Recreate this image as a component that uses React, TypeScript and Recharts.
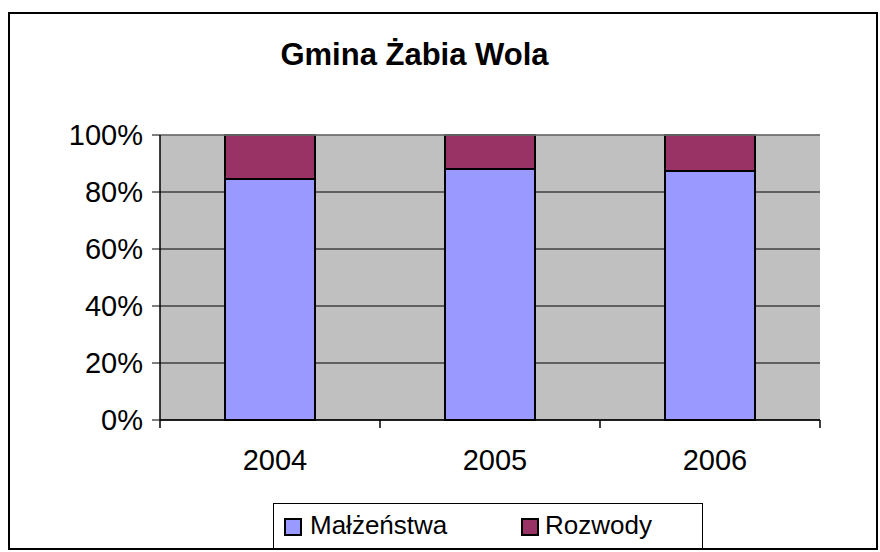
import React from 'react';
import { BarChart, Bar, XAxis, YAxis, CartesianGrid, ReferenceLine } from 'recharts';

const years = ['2004', '2005', '2006'];
const malzenstwa = [84.6, 88.1, 87.4];
const rozwody = [15.4, 11.9, 12.6];
const yTicks = [0, 20, 40, 60, 80, 100];

const data = years.map((y, i) => ({ year: y, m: malzenstwa[i], r: rozwody[i] }));

const FONT = '"Liberation Sans", Arial, sans-serif';

const CHART_W = 880;
const CHART_H = 552;
const MARGIN = { top: 135, right: 60, bottom: 102, left: 60 };
const Y_AXIS_W = 100;
const PLOT_W = CHART_W - MARGIN.left - MARGIN.right - Y_AXIS_W;
const HALF_BAND = PLOT_W / years.length / 2;

const XTick = (props: any) => {
  const { x, y, payload, index } = props;
  const isLast = index === years.length - 1;
  return (
    <g>
      <line x1={x - HALF_BAND} x2={x - HALF_BAND} y1={y} y2={y + 8} stroke="#000" strokeWidth={1.5} />
      {isLast && <line x1={x + HALF_BAND} x2={x + HALF_BAND} y1={y} y2={y + 8} stroke="#000" strokeWidth={1.5} />}
      <text x={x + 5} y={y + 50} textAnchor="middle" fontSize={29} fontFamily={FONT} fill="#000">
        {payload.value}
      </text>
    </g>
  );
};

export default function App() {
  return (
    <div style={{ position: 'absolute', left: 0, top: 0, width: CHART_W, height: CHART_H, background: '#fff', fontFamily: FONT }}>
      <BarChart width={CHART_W} height={CHART_H} data={data} margin={MARGIN} barSize={90}>
        <CartesianGrid vertical={false} fill="#C0C0C0" stroke="#000" strokeWidth={1} fillOpacity={1} />
        <XAxis
          dataKey="year"
          height={30}
          interval={0}
          tickSize={0}
          tickMargin={0}
          tickLine={false}
          axisLine={{ stroke: '#000', strokeWidth: 1.5 }}
          tick={<XTick />}
        />
        <YAxis
          width={Y_AXIS_W}
          domain={[0, 100]}
          ticks={yTicks}
          interval={0}
          tickFormatter={(v: number) => `${v}%`}
          tick={{ fontSize: 29, fontFamily: FONT, fill: '#000' }}
          tickSize={8}
          tickMargin={9}
          tickLine={{ stroke: '#000', strokeWidth: 1 }}
          axisLine={{ stroke: '#000', strokeWidth: 1.5 }}
        />
        <YAxis
          yAxisId="right"
          orientation="right"
          width={0}
          domain={[0, 100]}
          tick={false}
          tickLine={false}
          axisLine={{ stroke: '#808080', strokeWidth: 1.5 }}
        />
        <ReferenceLine y={100} stroke="#808080" strokeWidth={1.5} />
        <Bar dataKey="m" stackId="a" fill="#9999FF" stroke="#000" strokeWidth={2} isAnimationActive={false} />
        <Bar dataKey="r" stackId="a" fill="#993366" stroke="#000" strokeWidth={2} isAnimationActive={false} />
      </BarChart>

      <div
        style={{
          position: 'absolute',
          left: 0,
          top: 40,
          width: 829,
          textAlign: 'center',
          fontSize: 31,
          lineHeight: '30px',
          fontWeight: 'bold',
          color: '#000',
        }}
      >
        Gmina Żabia Wola
      </div>

      <div
        style={{
          position: 'absolute',
          left: 273,
          top: 503,
          width: 428,
          height: 44,
          border: '1.5px solid #000',
          fontSize: 26,
          color: '#000',
        }}
      >
        <div style={{ position: 'absolute', left: 10, top: 14, width: 14, height: 14, background: '#9999FF', border: '2px solid #000' }} />
        <div style={{ position: 'absolute', left: 36, top: 6, lineHeight: '30px' }}>Małżeństwa</div>
        <div style={{ position: 'absolute', left: 247, top: 14, width: 14, height: 14, background: '#993366', border: '2px solid #000' }} />
        <div style={{ position: 'absolute', left: 271, top: 6, lineHeight: '30px' }}>Rozwody</div>
      </div>

      <div
        style={{
          position: 'absolute',
          left: 8,
          top: 12,
          width: 870,
          height: 538,
          border: '2px solid #000',
          boxSizing: 'border-box',
          pointerEvents: 'none',
        }}
      />
    </div>
  );
}
